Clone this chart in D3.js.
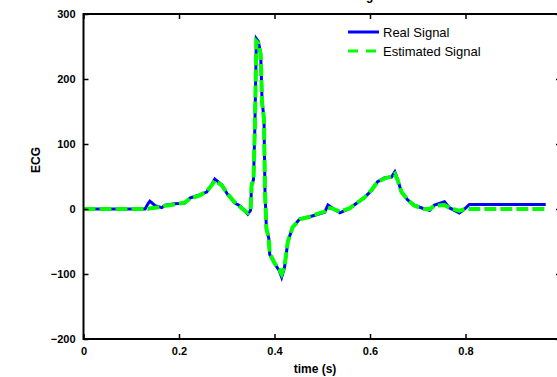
<!DOCTYPE html>
<html>
<head>
<meta charset="utf-8">
<script src="https://cdn.jsdelivr.net/npm/d3@7"></script>
<style>
  body { margin: 0; background: #fff; }
  svg { display: block; }
  .tick text { font-family: "Liberation Sans", Arial, sans-serif; font-weight: bold; font-size: 11px; }
</style>
</head>
<body>
<svg id="svg1" width="557" height="377"></svg>
<script>
// time samples (s)
var time = [0, 0.129, 0.135, 0.139, 0.15, 0.164, 0.171, 0.191, 0.212, 0.223, 0.244, 0.258, 0.269, 0.275,
            0.29, 0.302, 0.317, 0.327, 0.34, 0.344, 0.35, 0.352, 0.356, 0.359, 0.362, 0.366, 0.371, 0.374,
            0.378, 0.38, 0.383, 0.388, 0.39, 0.401, 0.41, 0.415, 0.421, 0.428, 0.438, 0.453, 0.474, 0.491,
            0.505, 0.512, 0.52, 0.537, 0.557, 0.574, 0.589, 0.604, 0.616, 0.631, 0.645, 0.652, 0.658, 0.666,
            0.679, 0.693, 0.714, 0.725, 0.735, 0.756, 0.766, 0.787, 0.798, 0.808, 0.968];

var realSignal = [0, 0, 8, 12, 5, 2, 6, 8, 9, 17, 22, 26, 38, 46,
                  37, 22, 9, 5, -5, -8, -2, 38, 45, 130, 262, 258, 240, 165,
                  140, 30, -30, -45, -70, -85, -95, -105, -90, -50, -28, -15, -12, -8,
                  -5, 6, 2, -6, 1, 10, 18, 29, 42, 48, 49, 57, 45, 26,
                  14, 6, 0, -2, 6, 11, 2, -6, 0, 7, 7];

var estSignal = [0, 0, 0, 1, 2, 3, 5, 7, 10, 16, 21, 27, 37, 44,
                 36, 23, 10, 4, -4, -6, -1, 36, 45, 128, 258, 255, 238, 163,
                 138, 28, -30, -44, -68, -84, -93, -100, -88, -50, -28, -16, -12, -7,
                 -4, 2, 1, -4, 1, 10, 18, 30, 42, 47, 50, 54, 44, 26,
                 14, 5, 0, 0, 5, 6, 2, -3, 0, 0, 0];

var xTicks = [0, 0.2, 0.4, 0.6, 0.8, 1];
var yTicks = [-200, -100, 0, 100, 200, 300];

var marginLeft = 83.5, plotRight = 561, marginTop = 14, plotBottom = 339;

var svg = d3.select('svg');

var x = d3.scaleLinear().domain([0, 1]).range([marginLeft, plotRight]);
var y = d3.scaleLinear().domain([-200, 300]).range([plotBottom, marginTop]);

var line = d3.line()
             .x(function(d) { return x(d[0]); })
             .y(function(d) { return y(d[1]); });

var realData = time.map(function(t, i) { return [t, realSignal[i]]; });
var estData = time.map(function(t, i) { return [t, estSignal[i]]; });

svg.append('path')
   .datum(realData)
   .attr('d', line)
   .attr('fill', 'none')
   .attr('stroke', '#0000ff')
   .attr('stroke-width', 3);

svg.append('path')
   .datum(estData)
   .attr('d', line)
   .attr('fill', 'none')
   .attr('stroke', '#00ff00')
   .attr('stroke-width', 4)
   .attr('stroke-dasharray', '12,4');

// axes box with inward ticks
var axisBottom = svg.append('g')
   .attr('transform', 'translate(0,' + plotBottom + ')')
   .call(d3.axisBottom(x).tickValues(xTicks).tickSize(-5).tickPadding(8)
           .tickFormat(function(d) { return d === 0 || d === 1 ? d : d3.format('.1f')(d); }));
axisBottom.select('.domain').remove();

var axisTop = svg.append('g')
   .attr('transform', 'translate(0,' + marginTop + ')')
   .call(d3.axisTop(x).tickValues(xTicks).tickSize(-5).tickFormat(''));
axisTop.select('.domain').remove();

var axisLeft = svg.append('g')
   .attr('transform', 'translate(' + marginLeft + ',0)')
   .call(d3.axisLeft(y).tickValues(yTicks).tickSize(-5).tickPadding(8));
axisLeft.select('.domain').remove();

var axisRight = svg.append('g')
   .attr('transform', 'translate(' + plotRight + ',0)')
   .call(d3.axisRight(y).tickValues(yTicks).tickSize(-5).tickFormat(''));
axisRight.select('.domain').remove();

svg.selectAll('.tick line').attr('stroke', '#000').attr('stroke-width', 1.5);

svg.append('rect')
   .attr('x', marginLeft).attr('y', marginTop)
   .attr('width', plotRight - marginLeft).attr('height', plotBottom - marginTop)
   .attr('fill', 'none')
   .attr('stroke', '#000')
   .attr('stroke-width', 2);

// labels
svg.append('text')
   .attr('x', 315).attr('y', 373)
   .attr('text-anchor', 'middle')
   .style('font-family', '"Liberation Sans", Arial, sans-serif')
   .style('font-weight', 'bold')
   .style('font-size', '12px')
   .text('time (s)');

svg.append('text')
   .attr('transform', 'translate(40,160) rotate(-90)')
   .attr('text-anchor', 'middle')
   .style('font-family', '"Liberation Sans", Arial, sans-serif')
   .style('font-weight', 'bold')
   .style('font-size', '12px')
   .text('ECG');

// title, clipped by the top edge like the reference
svg.append('text')
   .attr('x', 358).attr('y', 0)
   .attr('text-anchor', 'middle')
   .style('font-family', '"Liberation Sans", Arial, sans-serif')
   .style('font-weight', 'bold')
   .style('font-size', '12px')
   .text('ECG Signal');

// legend
var legend = svg.append('g').attr('transform', 'translate(348,0)');
legend.append('line')
      .attr('x1', 0).attr('x2', 31).attr('y1', 32).attr('y2', 32)
      .attr('stroke', '#0000ff').attr('stroke-width', 3);
legend.append('line')
      .attr('x1', 0).attr('x2', 28).attr('y1', 51).attr('y2', 51)
      .attr('stroke', '#00ff00').attr('stroke-width', 3)
      .attr('stroke-dasharray', '10,8');
legend.append('text')
      .attr('x', 35).attr('y', 37)
      .style('font-family', '"Liberation Sans", Arial, sans-serif')
      .style('font-size', '13px')
      .text('Real Signal');
legend.append('text')
      .attr('x', 35).attr('y', 56)
      .style('font-family', '"Liberation Sans", Arial, sans-serif')
      .style('font-size', '13px')
      .text('Estimated Signal');
</script>
</body>
</html>
